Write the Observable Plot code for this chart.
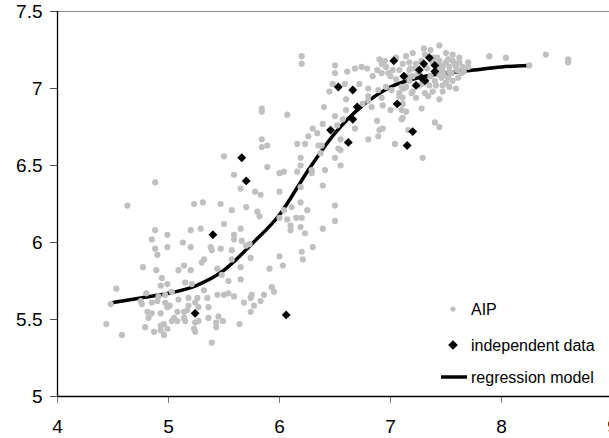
<!DOCTYPE html>
<html>
<head>
<meta charset="utf-8">
<script src="https://cdn.jsdelivr.net/npm/d3@7"></script>
<script src="https://cdn.jsdelivr.net/npm/@observablehq/plot@0.6"></script>
<style>
  html, body { margin: 0; padding: 0; background: white; overflow: hidden; }
  #wrap { position: relative; width: 609px; height: 438px; overflow: hidden; }
  #legend { position: absolute; left: 0; top: 0; pointer-events: none; }
</style>
</head>
<body>
<div id="wrap"></div>
<script>
// ---------- data ----------
const xTicks = [4, 5, 6, 7, 8, 9];
const yTicks = [5, 5.5, 6, 6.5, 7, 7.5];
const legendLabels = ["AIP", "independent data", "regression model"];

// AIP observations [x, y]
const aip = [
  [4.88,6.39],[4.63,6.24],[5.23,6.25],[5.31,6.26],[4.88,6.08],[4.85,6.02],[4.99,6.05],[5.20,6.08],[5.29,6.09],[5.13,6.00],
  [5.20,5.97],[4.99,5.97],[4.88,5.96],[4.90,5.92],[5.38,5.97],[5.39,5.95],[5.32,5.89],[5.30,5.87],[4.77,5.84],[4.89,5.82],
  [5.14,5.85],[5.09,5.82],[5.20,5.82],[4.94,5.77],[4.93,5.72],[4.99,5.73],[5.15,5.74],[5.21,5.73],[5.32,5.69],[5.03,5.68],
  [4.53,5.70],[4.80,5.67],[4.91,5.65],[4.97,5.66],[4.48,5.60],[4.75,5.62],[4.76,5.60],[4.85,5.61],[4.90,5.62],[4.97,5.61],
  [5.01,5.59],[5.09,5.63],[5.18,5.64],[5.26,5.64],[5.35,5.64],[5.24,5.61],[5.18,5.59],[5.27,5.58],[5.36,5.58],[4.99,5.58],
  [4.81,5.55],[4.85,5.54],[4.93,5.54],[5.08,5.55],[5.14,5.55],[5.17,5.56],[5.05,5.51],[4.82,5.51],[5.03,5.49],[5.08,5.49],
  [5.14,5.51],[5.15,5.49],[5.24,5.48],[5.27,5.49],[5.36,5.51],[4.44,5.47],[4.79,5.45],[4.93,5.46],[4.96,5.47],[4.87,5.42],
  [4.93,5.43],[4.99,5.44],[4.96,5.40],[5.23,5.44],[5.24,5.42],[4.58,5.40],[5.39,5.35],
  [5.84,6.62],[5.89,6.63],[6.16,6.64],[5.50,6.56],[6.38,6.63],[6.37,6.58],[6.19,6.55],[6.19,6.50],[5.89,6.49],[6.00,6.45],
  [6.04,6.46],[6.16,6.46],[6.29,6.47],[6.29,6.45],[6.41,6.47],[5.59,6.44],[5.65,6.35],[5.78,6.33],[5.83,6.31],[6.00,6.33],
  [6.19,6.36],[6.39,6.37],[5.47,6.25],[5.70,6.23],[5.57,6.21],[5.80,6.20],[5.82,6.17],[6.04,6.21],[6.11,6.23],[6.19,6.26],
  [6.25,6.21],[6.00,6.16],[6.07,6.15],[6.15,6.16],[6.20,6.16],[6.10,6.11],[6.10,6.08],[6.19,6.10],[6.23,6.06],[6.39,6.09],
  [5.50,6.12],[5.65,6.09],[5.59,6.05],[5.59,6.02],[5.66,6.01],[5.47,5.96],[5.57,5.95],[5.70,5.98],[5.73,5.99],[5.74,5.90],
  [5.57,5.89],[5.65,5.84],[6.00,5.91],[6.03,5.85],[5.91,5.83],[6.20,5.94],[6.21,5.89],[6.30,5.97],[5.44,5.83],[5.48,5.79],
  [5.54,5.75],[5.65,5.76],[5.44,5.66],[5.50,5.66],[5.54,5.67],[5.59,5.65],[5.75,5.66],[5.74,5.64],[5.86,5.66],[5.93,5.71],
  [5.95,5.68],[5.68,5.61],[5.77,5.59],[5.83,5.62],[5.74,5.55],[5.45,5.52],[5.43,5.48],[5.49,5.49],[5.43,5.45],[5.64,5.47],
  [6.20,7.21],[6.20,7.16],[6.50,7.15],[6.68,7.13],[6.74,7.14],[6.79,7.13],[6.61,7.11],[6.50,7.10],[6.90,7.19],[6.92,7.16],
  [6.96,7.14],[6.84,7.08],[6.92,7.10],[6.98,7.10],[6.48,7.03],[6.59,7.03],[6.72,7.03],[6.45,6.98],[6.80,7.00],[6.89,6.99],
  [6.96,7.01],[7.01,6.99],[6.60,6.93],[6.60,6.86],[6.80,6.95],[6.80,6.92],[6.75,6.90],[6.83,6.88],[6.92,6.94],[6.93,6.89],
  [7.00,6.86],[7.08,6.95],[7.10,6.86],[7.11,6.81],[6.40,6.88],[6.57,6.80],[6.50,6.82],[6.39,6.77],[6.30,6.74],[6.26,6.69],
  [6.34,6.71],[6.52,6.76],[6.68,6.74],[6.88,6.79],[6.90,6.73],[6.93,6.74],[6.80,6.67],[6.89,6.69],[7.04,6.64],[6.23,6.64],
  [6.35,6.63],[6.55,6.67],[6.53,6.61],[6.55,6.60],[6.50,6.55],[6.55,6.50],[6.50,6.24],[6.50,6.14],
  [5.84,6.87],[5.84,6.85],[6.07,6.83],[5.84,6.67],
  [7.44,7.28],[7.14,7.21],[7.20,7.23],[7.31,7.22],[7.38,7.20],[7.50,7.23],[7.56,7.22],[7.89,7.21],[7.11,7.16],[7.17,7.17],
  [7.44,7.18],[7.50,7.17],[7.56,7.18],[7.62,7.17],[7.70,7.17],[7.47,7.14],[7.53,7.14],[7.59,7.14],[7.65,7.14],[7.70,7.14],
  [7.17,7.12],[7.22,7.13],[7.47,7.11],[7.53,7.11],[7.64,7.10],[7.46,7.07],[7.52,7.07],[7.56,7.05],[7.61,7.07],[7.17,7.05],
  [7.14,7.01],[7.26,7.02],[7.35,7.02],[7.41,7.02],[7.47,7.02],[7.53,7.01],[7.59,7.00],[7.38,6.98],[7.31,6.97],[7.23,6.94],
  [7.19,6.97],[7.47,6.98],[7.44,6.93],[7.28,6.87],[7.11,6.90],[7.14,6.85],[7.10,6.80],[7.40,6.78],[7.44,6.75],[7.16,6.73],
  [7.29,6.55],[7.10,7.01],[7.11,6.94],
  [8.04,7.20],[8.25,7.15],[8.40,7.22],[8.60,7.19],[8.60,7.17],
  [7.20,7.08],[7.25,7.10],[7.33,7.13],[7.36,7.08],[7.42,7.12],[7.45,7.15],[7.38,7.17],[7.28,7.18],[7.23,7.16],[7.32,7.05],
  [7.40,7.05],[7.48,7.09],[7.55,7.10],[7.60,7.12],[7.66,7.11],[7.52,7.19],[7.42,7.20],[7.36,7.25],[7.30,7.26],[7.18,7.13],
  [7.15,7.08],[7.28,7.03],[7.50,7.04],[7.44,7.09],[7.58,7.16],[7.62,7.20],[7.08,7.12],[7.05,7.06],[7.00,7.08],[7.12,7.00],
  [7.20,6.98],[7.34,6.95],[7.08,6.97],[6.95,7.18],[7.02,7.12],[6.88,7.12],[7.05,7.20]
];

// independent data [x, y]
const independent = [
  [5.24,5.54],[5.40,6.05],[5.66,6.55],[5.70,6.40],[6.06,5.53],[6.46,6.73],[6.53,7.01],[6.62,6.65],[6.66,6.80],[6.66,6.99],
  [6.70,6.88],[7.03,7.18],[7.06,6.90],[7.12,7.08],[7.15,6.63],[7.20,6.72],[7.23,7.02],[7.26,7.12],[7.28,7.07],[7.30,7.16],
  [7.31,7.05],[7.35,7.20],[7.40,7.15],[7.40,7.11]
];

// regression model
const modelX = [4.5, 4.75, 5.0, 5.25, 5.5, 5.75, 6.0, 6.25, 6.5, 6.75, 7.0, 7.25, 7.5, 7.75, 8.0, 8.25];
const modelY = [5.61, 5.64, 5.67, 5.72, 5.82, 5.99, 6.18, 6.46, 6.71, 6.89, 7.01, 7.07, 7.10, 7.12, 7.14, 7.15];
const model = modelX.map((x, i) => ({x, y: modelY[i]}));

// ---------- chart ----------
const FONT = "'Liberation Sans', Arial, sans-serif";
const chart = Plot.plot({
  width: 609,
  height: 438,
  marginLeft: 57,
  marginRight: -3,
  marginTop: 11,
  marginBottom: 42,
  style: {fontFamily: FONT, background: "white", color: "black", overflow: "hidden"},
  x: {domain: [4, 9]},
  y: {domain: [5, 7.5]},
  marks: [
    Plot.ruleY([7.5], {stroke: "#8c8c8c", strokeWidth: 1}),
    Plot.axisX({ticks: xTicks, tickSize: 7, tickPadding: 16, fontSize: 19, stroke: "#777", fill: "black", label: null, tickFormat: d => String(d)}),
    Plot.axisY({ticks: yTicks, tickSize: 7, tickPadding: 8, fontSize: 19, stroke: "#555", fill: "black", label: null, tickFormat: d => String(d)}),
    Plot.line(model, {x: "x", y: "y", stroke: "black", strokeWidth: 3.5, curve: "monotone-x"}),
    Plot.dot(aip, {x: d => d[0], y: d => d[1], r: 3.1, fill: "#c0c0c0", stroke: "none"}),
    Plot.dot(independent, {x: d => d[0], y: d => d[1], r: 4, symbol: "diamond2", fill: "black", stroke: "none"}),
    Plot.ruleX([4], {stroke: "black", strokeWidth: 1.3}),
    Plot.ruleY([5], {stroke: "black", strokeWidth: 1.3})
  ]
});
const wrap = document.getElementById("wrap");
wrap.appendChild(chart);

// ---------- legend (inside plot area, lower right) ----------
const svg = d3.select(wrap).append("svg")
  .attr("id", "legend").attr("width", 609).attr("height", 438)
  .style("font-family", FONT);
const rows = [309, 345, 377];
svg.append("circle").attr("cx", 453).attr("cy", rows[0]).attr("r", 2.6).attr("fill", "#c0c0c0");
svg.append("path").attr("d", d3.symbol(d3.symbolDiamond2, 60)()).attr("transform", `translate(453,${rows[1]})`).attr("fill", "black");
svg.append("line").attr("x1", 441).attr("x2", 467).attr("y1", rows[2]).attr("y2", rows[2]).attr("stroke", "black").attr("stroke-width", 3.5);
legendLabels.forEach((t, i) => {
  svg.append("text").attr("x", 471).attr("y", rows[i]).attr("dy", "0.36em")
    .attr("font-size", 16).attr("fill", "black").text(t);
});
</script>
</body>
</html>
